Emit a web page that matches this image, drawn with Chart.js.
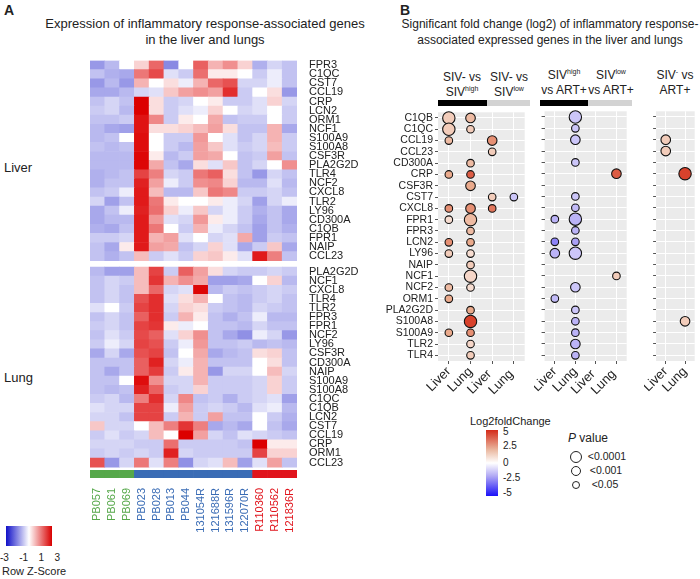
<!DOCTYPE html>
<html>
<head>
<meta charset="utf-8">
<script src="https://cdn.jsdelivr.net/npm/chart.js@4/dist/chart.umd.min.js"></script>
<style>
  body { margin: 0; width: 700px; height: 579px; position: relative; background: #fff; font-family: "Liberation Sans", Arial, sans-serif; color: #222; overflow: hidden; }
  .abs { position: absolute; }
  canvas { position: absolute; }
  .hdr { font-size: 12px; text-align: center; line-height: 15px; white-space: nowrap; }
  .hdr sup { font-size: 7px; line-height: 0; }
  .bar { position: absolute; height: 6px; }
  .lk { position: absolute; left: 503px; font-size: 10px; }
</style>
</head>
<body>
<div class="abs" style="left:4px;top:2px;font-weight:bold;font-size:14px">A</div>
<div class="abs hdr" style="left:20px;top:16px;width:370px;font-size:13px;line-height:16px">Expression of inflammatory response-associated genes<br>in the liver and lungs</div>
<div class="abs" style="left:4px;top:160px;font-size:13px">Liver</div>
<div class="abs" style="left:4px;top:370px;font-size:13px">Lung</div>

<div class="abs" style="left:400px;top:2px;font-weight:bold;font-size:14px">B</div>
<div class="abs hdr" style="left:400px;top:16px;width:300px;font-size:12px;line-height:16px">Significant fold change (log2) of inflammatory response-<br>associated expressed genes in the liver and lungs</div>

<div class="abs hdr" style="left:438px;top:70px;width:48px">SIV- vs<br>SIV<sup>high</sup></div>
<div class="abs hdr" style="left:486px;top:70px;width:46px">SIV- vs<br>SIV<sup>low</sup></div>
<div class="abs hdr" style="left:538px;top:68px;width:52px">SIV<sup>high</sup><br>vs ART+</div>
<div class="abs hdr" style="left:588px;top:68px;width:46px">SIV<sup>low</sup><br>vs ART+</div>
<div class="abs hdr" style="left:650px;top:68px;width:50px">SIV<sup>-</sup> vs<br>ART+</div>
<div class="bar" style="left:438px;top:100px;width:49px;background:#000"></div>
<div class="bar" style="left:487px;top:100px;width:43px;background:#d3d3d3"></div>
<div class="bar" style="left:540px;top:100px;width:48px;background:#000"></div>
<div class="bar" style="left:588px;top:100px;width:44px;background:#d3d3d3"></div>

<canvas id="heat" width="290" height="500" style="left:80px;top:50px;width:290px;height:500px"></canvas>
<canvas id="b1" width="160" height="305" style="left:372px;top:104px;width:160px;height:305px"></canvas>
<canvas id="b2" width="100" height="305" style="left:534px;top:104px;width:100px;height:305px"></canvas>
<canvas id="b3" width="58" height="305" style="left:644px;top:104px;width:58px;height:305px"></canvas>

<!-- z-score key -->
<div class="abs" style="left:6px;top:526px;width:46px;height:20px;background:linear-gradient(to right,#1010c8,#fff,#d80000)"></div>
<div class="abs" style="left:0px;top:552px;width:60px;font-size:10px;display:flex;justify-content:space-between"><span>-3</span><span>-1</span><span>1</span><span>3</span></div>
<div class="abs" style="left:2px;top:565px;font-size:11px">Row Z-Score</div>

<!-- log2fc key -->
<div class="abs" style="left:470px;top:415px;font-size:11px">Log2foldChange</div>
<div class="abs" style="left:486px;top:430px;width:12px;height:66px;background:linear-gradient(to bottom,#d42a18,#eab8a0 30%,#fff 50%,#b0a8f4 70%,#1a10f8)"></div>
<span class="lk" style="top:426px">5</span>
<span class="lk" style="top:440px">2.5</span>
<span class="lk" style="top:457px">0</span>
<span class="lk" style="top:472px">-2.5</span>
<span class="lk" style="top:487px">-5</span>
<div class="abs" style="left:568px;top:431px;font-size:12px"><i>P</i> value</div>
<div class="abs" style="left:570px;top:449px;font-size:10.5px;line-height:14px">
  <div><span style="display:inline-block;width:10px;height:10px;border:1.3px solid #222;border-radius:50%;vertical-align:middle"></span>&nbsp; &lt;0.0001</div>
  <div><span style="display:inline-block;width:8px;height:8px;border:1.3px solid #222;border-radius:50%;vertical-align:middle;margin-left:1px"></span>&nbsp;&nbsp; &lt;0.001</div>
  <div><span style="display:inline-block;width:6px;height:6px;border:1.3px solid #222;border-radius:50%;vertical-align:middle;margin-left:2px"></span>&nbsp;&nbsp;&nbsp; &lt;0.05</div>
</div>

<script>
// ---- heatmap data ----
const samples = ['PB057','PB061','PB069','PB023','PB028','PB013','PB044','131054R','121688R','131596R','122070R','R110360','R110562','121836R'];
const sampleGroup = ['g','g','g','b','b','b','b','b','b','b','b','r','r','r'];
const liverGenes = ['FPR3','C1QC','CST7','CCL19','CRP','LCN2','ORM1','NCF1','S100A9','S100A8','CSF3R','PLA2G2D','TLR4','NCF2','CXCL8','TLR2','LY96','CD300A','C1QB','FPR1','NAIP','CCL23'];
const liverZ = [
  [-1,-0.6,0,0.3,1.5,-1.2,0,1.6,0.6,1,0.3,-0.7,-0.3,-0.5],
  [-0.5,-0.7,-0.8,1.3,1.9,-0.2,-0.4,1.4,0.1,0.1,0,-0.4,-0.1,-0.5],
  [-1,-0.6,-1,0.6,0,0.2,-0.1,0.6,1.5,1.8,-0.3,-0.3,-0.1,-0.5],
  [-0.8,-0.8,-0.6,-0.3,-0.2,0.4,0.8,1,0.8,2.3,-0.4,0,0.2,-1],
  [-0.5,-0.3,-0.5,3,0.2,-0.4,-0.3,0,0.1,-0.4,-0.4,-0.2,0.3,-0.3],
  [-0.4,-0.3,-0.6,3,0.2,-0.4,-0.2,-0.1,0.3,0,-0.3,-0.2,0,-0.4],
  [-0.5,-0.5,-0.4,2.7,1.1,-0.4,0.1,0,0.7,-0.5,-0.4,-0.4,0,-0.4],
  [-0.6,-0.8,-0.9,2.7,0.2,0.2,0.3,0.5,0.8,0.2,-0.5,-0.5,0.6,-0.8],
  [-0.6,-0.5,0,2.8,0,-0.4,-0.4,0.9,0,-0.2,-0.5,-0.3,0.6,-0.4],
  [-0.5,-0.6,-0.5,2.8,0,-0.4,-0.6,0.8,0.4,-0.2,-0.4,-0.3,0.5,-0.4],
  [-0.6,-0.6,-0.6,2.9,0.1,-0.6,-0.4,0.8,0.7,0,-0.5,-0.4,0.8,-0.5],
  [-0.6,-0.6,-0.6,2.9,0.7,-0.5,-0.8,0.2,-0.2,0.4,-0.5,-0.3,0,1],
  [-0.7,-0.6,-0.5,2,1.2,-0.3,-0.4,1.3,1.6,0.2,-0.5,-1,-0.3,-0.5],
  [-0.7,-0.5,-0.5,2.5,0.8,-0.1,-0.4,1,1.1,0.3,-0.6,-0.6,-0.2,-0.6],
  [-0.5,-0.4,-0.1,2.6,0.5,-0.6,-0.6,0.4,1.3,1.1,-0.4,-0.4,-0.3,-0.5],
  [-0.3,-0.9,-0.5,2.6,1.3,0.1,0,0,0.1,-0.1,-0.3,-0.9,-0.3,-0.1],
  [-0.8,-0.5,-0.1,2.5,1.4,0.3,-0.1,0.4,-0.3,-0.1,-0.4,-0.7,-0.5,-0.8],
  [-0.8,-0.6,-0.6,2.6,0.9,-0.2,-0.3,0.9,0.1,-0.1,-0.4,-0.8,-0.5,-0.8],
  [-0.7,-0.8,-0.5,2.6,1.3,0,-0.4,0.6,-0.1,-0.3,-0.5,-0.9,-0.5,-0.7],
  [-0.4,-0.4,-0.3,2.6,0.6,0.8,-0.2,0,-0.3,-0.2,0.7,-0.9,-0.4,-0.5],
  [-0.5,-0.8,0.1,2.6,0.8,0.7,-0.5,-0.3,0.3,-0.2,-0.8,-0.4,0.4,-0.8],
  [-0.5,-0.7,-0.5,0.5,-0.4,-0.2,-0.4,0.3,0.4,0.1,-0.2,2.6,1.2,-0.5]
];
const lungGenes = ['PLA2G2D','NCF1','CXCL8','TLR4','TLR2','FPR3','FPR1','NCF2','LY96','CSF3R','CD300A','NAIP','S100A9','S100A8','C1QC','C1QB','LCN2','CST7','CCL19','CRP','ORM1','CCL23'];
const lungZ = [
  [-0.6,-0.9,-0.9,0.5,2,-0.4,1.6,0.8,0.2,-0.3,-0.4,-0.4,-0.3,-0.4],
  [-0.5,-0.3,-0.4,0.5,2.2,0.6,1,0.7,-0.9,-0.9,-0.8,0,0.3,-0.6],
  [-0.5,-0.3,-0.5,0.5,1.5,-0.3,-0.2,2.9,-0.6,-0.4,-0.5,-0.4,-0.3,-0.4],
  [-0.5,-0.3,-0.5,1.8,2.3,-0.2,0.2,0.6,0,-0.5,-0.6,-0.4,-0.3,-0.5],
  [-0.2,0,-0.4,2,2.3,-0.3,0.3,0.2,-0.4,-0.5,-0.6,-0.3,-0.4,-0.5],
  [-0.5,-0.3,-0.5,1.6,2.3,-0.4,0.6,0.1,-0.5,-0.7,-0.5,-0.1,-0.6,-0.6],
  [-0.4,-0.3,-0.5,2,2.2,0.1,-0.1,0,-0.5,-0.5,-0.6,-0.3,-0.5,-0.5],
  [-0.5,-0.2,-0.4,1.9,1.6,-0.2,0.3,1,-0.5,-0.8,-1.1,-0.1,-0.3,-1],
  [-0.4,-0.1,-0.3,2,1.8,-0.4,-0.1,0.9,-0.5,-0.5,-0.4,-0.6,-0.5,-0.6],
  [-0.8,-0.3,-0.8,1.8,2,-0.5,0,0.7,-0.8,-0.6,-0.5,0.2,0.3,-0.5],
  [-0.5,-0.5,-0.5,1.6,2.5,-0.3,-0.1,0.6,-0.5,-0.5,-0.5,0,0.2,-0.5],
  [-0.5,-0.8,-0.5,1.6,2.1,-0.4,0.1,0.6,-1,-0.3,-0.3,0,0.5,-0.3],
  [-0.5,-0.5,0,2.8,1,-0.3,-0.3,0.6,-0.4,-0.4,-0.4,-0.3,0.3,-0.4],
  [-0.5,-0.6,-0.5,2.5,1.6,-0.4,-0.3,0.3,-0.4,-0.4,-0.4,-0.3,0.3,-0.4],
  [-0.4,-0.3,-0.6,1.2,2.3,-0.3,1.1,-0.5,-0.4,-0.7,-0.4,-0.3,-0.2,-0.9],
  [-0.2,-0.3,-0.3,2,2,-0.1,0.8,-0.4,-0.3,-0.4,-0.6,-0.2,-0.1,-0.6],
  [-0.3,-0.3,-0.5,2,2,-0.4,0.6,-0.4,0.8,-0.5,-0.5,0,-0.4,-0.7],
  [0.4,-0.3,-0.3,0,0.5,1.2,2.2,1.2,-0.8,-0.6,-0.8,0,-0.5,-0.8],
  [-0.4,-0.2,-0.4,-0.3,0.5,0,3,0.8,-0.3,-0.5,-0.2,-0.3,-0.4,-0.5],
  [-0.3,-0.3,-0.3,-0.4,-0.4,1.4,-0.4,-0.4,-0.4,-0.4,-0.5,3,0.1,0.1],
  [-0.4,-0.3,-0.4,-0.3,-0.4,2.5,-0.3,-0.4,-0.4,-0.4,-0.4,2,0.3,0.3],
  [1.8,-1,-0.3,1.3,-0.2,1.2,-1.1,-0.3,-0.2,0.5,-0.9,-0.2,0.8,-0.5]
];

// ---- bubble data: [gene, column, log2fc, pLevel(1:<0.05 2:<0.001 3:<0.0001)] ----
const bubbleGenes = ['C1QB','C1QC','CCL19','CCL23','CD300A','CRP','CSF3R','CST7','CXCL8','FPR1','FPR3','LCN2','LY96','NAIP','NCF1','NCF2','ORM1','PLA2G2D','S100A8','S100A9','TLR2','TLR4'];
const tissueCols4 = ['Liver','Lung','Liver ','Lung '];
const tissueCols2 = ['Liver','Lung'];
const panel1 = [
  ['C1QB',0,1.5,3],['C1QB',1,2,2],['C1QC',0,1.5,3],['C1QC',1,1.5,1],
  ['CCL19',0,2,1],['CCL19',2,3,2],['CCL23',2,1.5,1],['CD300A',1,2,1],
  ['CRP',0,2.5,1],['CRP',1,4,1],['CSF3R',1,2.5,2],['CST7',2,1.5,1],['CST7',3,-1.5,1],
  ['CXCL8',0,3,1],['CXCL8',1,3,2],['CXCL8',2,3.5,1],['FPR1',0,1,1],['FPR1',1,2,3],
  ['FPR3',1,2,1],['LCN2',0,3,1],['LCN2',1,2.5,1],['LY96',0,1.5,1],['LY96',1,1,1],
  ['NAIP',1,1.5,1],['NCF1',1,1.2,3],['NCF2',0,2,1],['NCF2',1,1,1],['ORM1',0,2.5,1],
  ['PLA2G2D',1,2.5,1],['S100A8',1,4.5,3],['S100A9',0,2.5,1],['S100A9',1,3,1],
  ['TLR2',1,1.2,1],['TLR4',1,1.5,1]
];
const panel2 = [
  ['C1QB',1,-1.5,3],['C1QC',1,-1.5,1],['CCL19',1,-1.5,2],['CD300A',1,-1.5,1],['CRP',3,4,2],
  ['CST7',1,-1.5,1],['CXCL8',1,-1.8,1],['FPR1',0,-2,1],['FPR1',1,-2,3],['FPR3',1,-2,1],
  ['LCN2',0,-3,1],['LCN2',1,-2.5,1],['LY96',0,-2,2],['LY96',1,-1.5,3],['NCF1',3,1.5,1],
  ['NCF2',1,-1.5,2],['ORM1',0,-1.8,1],['PLA2G2D',1,-1.5,1],['S100A8',1,-2,1],
  ['S100A9',1,-2,1],['TLR2',1,-2,2],['TLR4',1,-2,1]
];
const panel3 = [
  ['CCL19',0,1.5,2],['CCL23',0,1.5,2],['CRP',1,4.5,3],['S100A8',1,1.5,2]
];

const groupColors = { g: '#56a84a', b: '#3a6cb5', r: '#e0141c' };

function mix(a, b, t) {
  return 'rgb(' + a.map((v, i) => Math.round(v + (b[i] - v) * t)).join(',') + ')';
}
function zColor(z) {
  const t = Math.min(Math.abs(z) / 3, 1);
  return z < 0 ? mix([255,255,255], [20,20,200], Math.pow(t, 0.75))
               : mix([255,255,255], [220,0,0], Math.pow(t, 0.75));
}
function fcColor(fc) {
  const t = Math.min(Math.abs(fc) / 5, 1);
  if (fc >= 0) return t < 0.5 ? mix([255,255,255], [234,170,140], t / 0.5) : mix([234,170,140], [212,40,20], (t - 0.5) / 0.5);
  return t < 0.5 ? mix([255,255,255], [170,160,245], t / 0.5) : mix([170,160,245], [25,15,250], (t - 0.5) / 0.5);
}

// ---- heatmap as stacked bars ----
const heatSets = [];
const tickVals = [];
const tickNames = [];
let yPos = 0;
function addRow(h, colors, name) {
  heatSets.push({ data: samples.map(() => h), backgroundColor: colors, borderWidth: 0 });
  if (name) { tickVals.push(yPos + h / 2); tickNames.push(name); }
  yPos += h;
}
addRow(0.85, sampleGroup.map(g => groupColors[g]));
addRow(0.35, samples.map(() => 'rgba(0,0,0,0)'));
for (let r = lungGenes.length - 1; r >= 0; r--) addRow(1, lungZ[r].map(zColor), lungGenes[r]);
addRow(0.7, samples.map(() => 'rgba(0,0,0,0)'));
for (let r = liverGenes.length - 1; r >= 0; r--) addRow(1, liverZ[r].map(zColor), liverGenes[r]);
const heatTop = yPos;

new Chart(document.getElementById('heat'), {
  type: 'bar',
  data: { labels: samples, datasets: heatSets },
  options: {
    responsive: false, animation: false,
    layout: { padding: { top: 6, left: 10 } },
    plugins: { legend: { display: false }, tooltip: { enabled: false } },
    datasets: { bar: { categoryPercentage: 1, barPercentage: 1 } },
    scales: {
      x: {
        stacked: true, grid: { display: false }, border: { display: false },
        ticks: {
          minRotation: 90, maxRotation: 90, padding: 2, autoSkip: false,
          font: { family: 'Liberation Sans', size: 11 },
          color: ctx => groupColors[sampleGroup[ctx.index]]
        },
        afterFit: a => { a.height = 72; }
      },
      y: {
        stacked: true, position: 'right', min: 0, max: heatTop,
        grid: { display: false }, border: { display: false },
        afterBuildTicks: a => { a.ticks = tickVals.map(v => ({ value: v })); },
        ticks: {
          autoSkip: false, padding: 4,
          font: { family: 'Liberation Sans', size: 11 }, color: '#222',
          callback: (v, i) => tickNames[i]
        },
        afterFit: a => { a.width = 73; }
      }
    }
  }
});

// ---- bubble panels ----
const panelBg = {
  id: 'panelBg',
  beforeDraw(chart) {
    const { ctx, chartArea: c } = chart;
    ctx.save();
    ctx.fillStyle = '#ebebeb';
    ctx.fillRect(c.left, c.top, c.right - c.left, c.bottom - c.top);
    ctx.restore();
  }
};
const pRadius = [0, 3.8, 4.8, 6.2];

function bubblePanel(id, cols, rows, showY, yWidth) {
  const pts = rows.map(([g, c, fc, p]) => ({ x: cols[c], y: g, r: pRadius[p], fc }));
  new Chart(document.getElementById(id), {
    type: 'bubble',
    data: { datasets: [{
      data: pts,
      backgroundColor: pts.map(p => fcColor(p.fc)),
      borderColor: '#111', borderWidth: 1.1
    }] },
    options: {
      responsive: false, animation: false,
      layout: { padding: { top: 0, right: 2, left: 0 } },
      plugins: { legend: { display: false }, tooltip: { enabled: false } },
      scales: {
        x: {
          type: 'category', labels: cols, offset: true,
          grid: { color: '#fff', lineWidth: 1, offset: false, drawTicks: true, tickLength: 3, tickColor: '#555' },
          border: { display: false },
          ticks: { autoSkip: false, minRotation: 45, maxRotation: 45, padding: 0, color: '#222', font: { family: 'Liberation Sans', size: 13 } },
          afterFit: a => { a.height = 48; }
        },
        y: {
          type: 'category', labels: bubbleGenes, offset: true,
          grid: { color: '#fff', lineWidth: 1, offset: false, tickLength: 3, tickColor: '#555' },
          border: { display: false },
          ticks: { display: showY, autoSkip: false, padding: 2, color: '#222', font: { family: 'Liberation Sans', size: 10.5 } },
          afterFit: a => { a.width = yWidth; }
        }
      }
    },
    plugins: [panelBg]
  });
}
bubblePanel('b1', tissueCols4, panel1, true, 66);
bubblePanel('b2', tissueCols4, panel2, false, 6);
bubblePanel('b3', tissueCols2, panel3, false, 6);
</script>
</body>
</html>
